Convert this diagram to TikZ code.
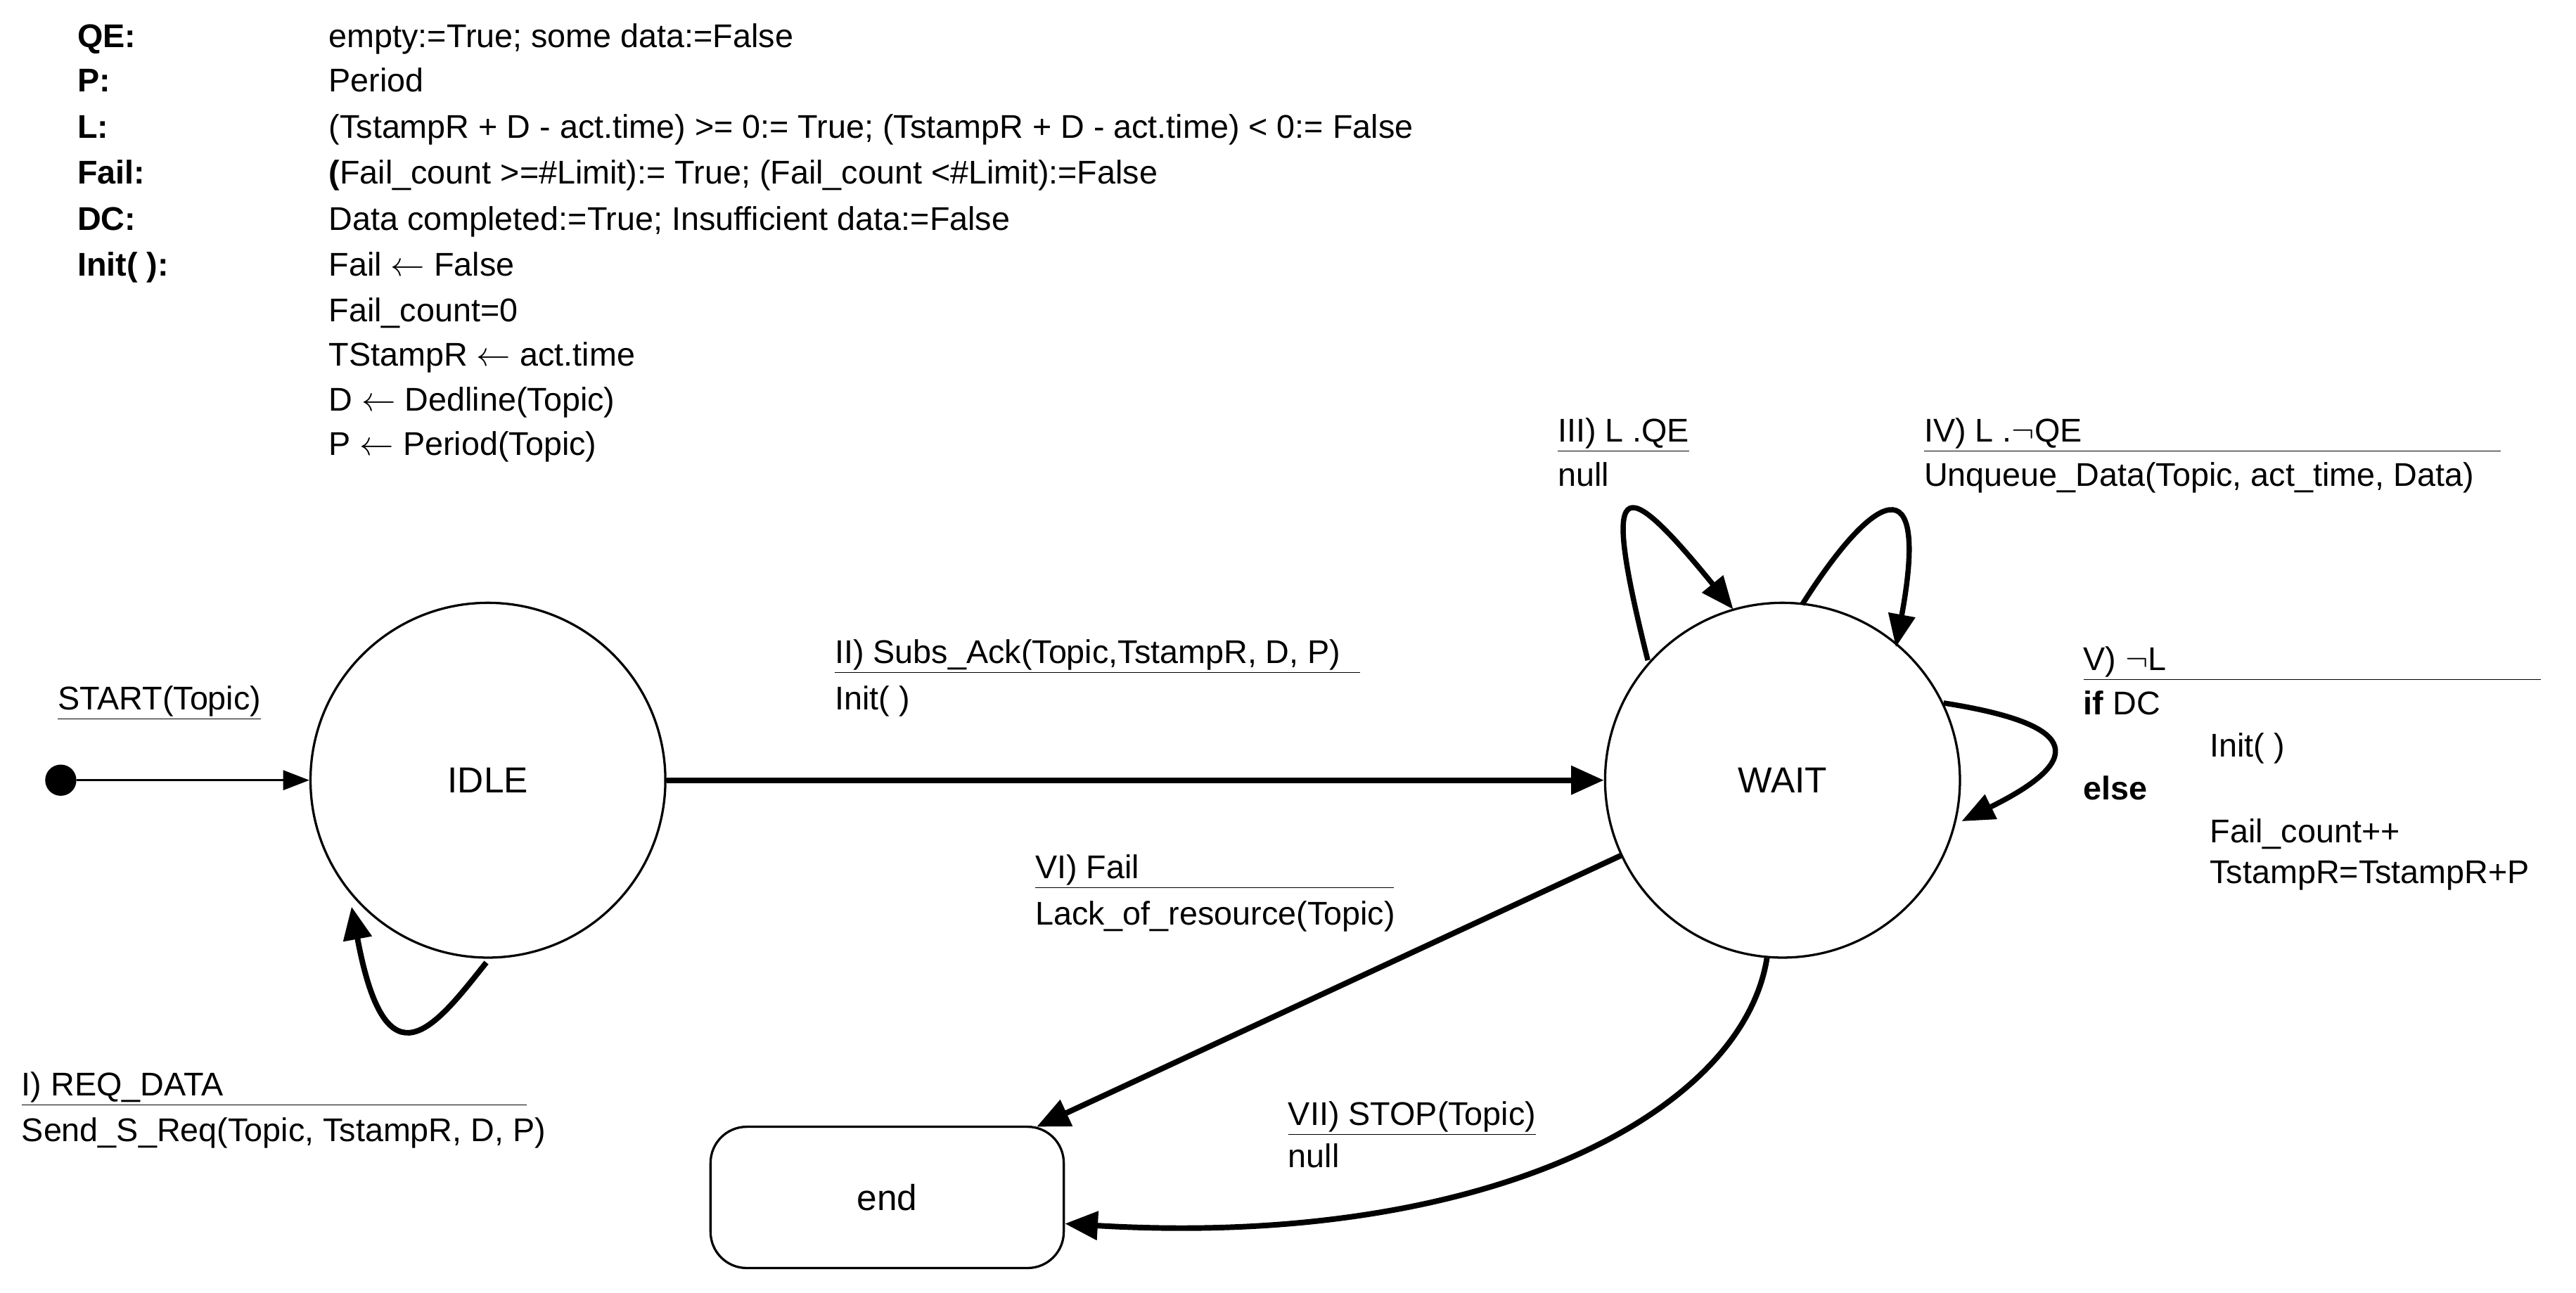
\documentclass[tikz,border=0pt]{standalone}
\usepackage{fontspec}
\setmainfont{Liberation Sans}
\usetikzlibrary{arrows.meta}
\begin{document}
\begin{tikzpicture}[x=1pt,y=-1pt,
  txt/.style={anchor=base west,inner sep=0pt,font=\fontsize{20}{24}\selectfont},
  state/.style={circle,draw,line width=1.4pt,minimum size=216pt,inner sep=0pt,font=\fontsize{22}{26}\selectfont},
  thick arrow/.style={line width=3.4pt,-{Triangle[length=20pt,width=17pt]}},
  thin arrow/.style={line width=1.3pt,-{Triangle[length=16pt,width=12pt]}}]
\useasboundingbox (0,0) rectangle (1568,787);
% legend
\foreach \n/\l/\v/\y in {q/QE:/{empty:=True; some data:=False}/29,
  p/P:/Period/56, l/L:/{(TstampR + D - act.time) >= 0:= True; (TstampR + D - act.time) < 0:= False}/84,
  f/Fail:/{\textbf{(}Fail\_count >=\#Limit):= True; (Fail\_count <\#Limit):=False}/112,
  d/DC:/{Data completed:=True; Insufficient data:=False}/140,
  i/Init( ):/{Fail $\leftarrow$ False}/168}{
  \node[txt,font=\fontsize{20}{24}\selectfont\bfseries] (k\n) at (47,\y) {\l};
  \node[txt] (v\n) at (200,\y) {\v};
}
\node[txt] (i2) at (200,196) {Fail\_count=0};
\node[txt] (i3) at (200,223) {TStampR $\leftarrow$ act.time};
\node[txt] (i4) at (200,250) {D $\leftarrow$ Dedline(Topic)};
\node[txt] (i5) at (200,277) {P $\leftarrow$ Period(Topic)};
% states
\node[state] (idle) at (297,475) {IDLE};
\node[state] (wait) at (1085,475) {WAIT};
\node[draw,line width=1.4pt,rounded corners=22pt,minimum width=215pt,minimum height=86pt,font=\fontsize{22}{26}\selectfont] (end) at (540,729) {end};
\node[circle,fill,minimum size=19pt,inner sep=0pt] (start) at (37,475) {};
% connectors
\draw[thin arrow] (start) -- (idle);
\draw[thick arrow] (idle) -- (wait);
\coordinate (s1) at (296,586);
\coordinate (e1) at (214,552);
\draw[thick arrow] (s1) .. controls (265,625) and (235,665) .. (e1);
\draw[thick arrow] (wait.-155) -- (631,686);
\draw[thick arrow] (wait.-95) .. controls (1060,680) and (900,760) .. (end.east |- 0,745);
\coordinate (a3) at (1003,402);
\coordinate (b3) at (1055,371);
\draw[line width=3.2pt,-{Triangle[length=20pt,width=16pt]}] (a3) .. controls (975,290) and (985,285) .. (b3);
\coordinate (a4) at (1097,368);
\coordinate (b4) at (1154,394);
\draw[line width=3.2pt,-{Triangle[length=20pt,width=16pt]}] (a4) .. controls (1140,300) and (1175,280) .. (b4);
\coordinate (a5) at (1183,428);
\coordinate (b5) at (1194,500);
\draw[line width=3.2pt,-{Triangle[length=20pt,width=16pt]}] (a5) .. controls (1260,440) and (1275,460) .. (b5);
% labels
\node[txt] (lst) at (35,432) {\underline{START(Topic)}};
\node[txt] (l2a) at (508,404) {\underline{II) Subs\_Ack(Topic,TstampR, D, P)\hspace{12pt}}};
\node[txt] (l2b) at (508,432) {Init( )};
\node[txt] (l1a) at (13,667) {\underline{I) REQ\_DATA\hspace{185pt}}};
\node[txt] (l1b) at (13,695) {Send\_S\_Req(Topic, TstampR, D, P)};
\node[txt] (l6a) at (630,535) {\underline{VI) Fail\hspace{155pt}}};
\node[txt] (l6b) at (630,563) {Lack\_of\_resource(Topic)};
\node[txt] (l7a) at (784,685) {\underline{VII) STOP(Topic)}};
\node[txt] (l7b) at (784,711) {null};
\node[txt] (l3a) at (948,269) {\underline{III) L .QE}};
\node[txt] (l3b) at (948,296) {null};
\node[txt] (l4a) at (1171,269) {\underline{IV) L .$\neg$QE\hspace{255pt}}};
\node[txt] (l4b) at (1171,296) {Unqueue\_Data(Topic, act\_time, Data)};
\node[txt] (l5a) at (1268,408) {\underline{V) $\neg$L\hspace{228pt}}};
\node[txt] (l5b) at (1268,435) {\textbf{if} DC};
\node[txt] (l5c) at (1345,461) {Init( )};
\node[txt] (l5d) at (1268,487) {\textbf{else}};
\node[txt] (l5e) at (1345,513) {Fail\_count++};
\node[txt] (l5f) at (1345,538) {TstampR=TstampR+P};
\end{tikzpicture}
\end{document}
